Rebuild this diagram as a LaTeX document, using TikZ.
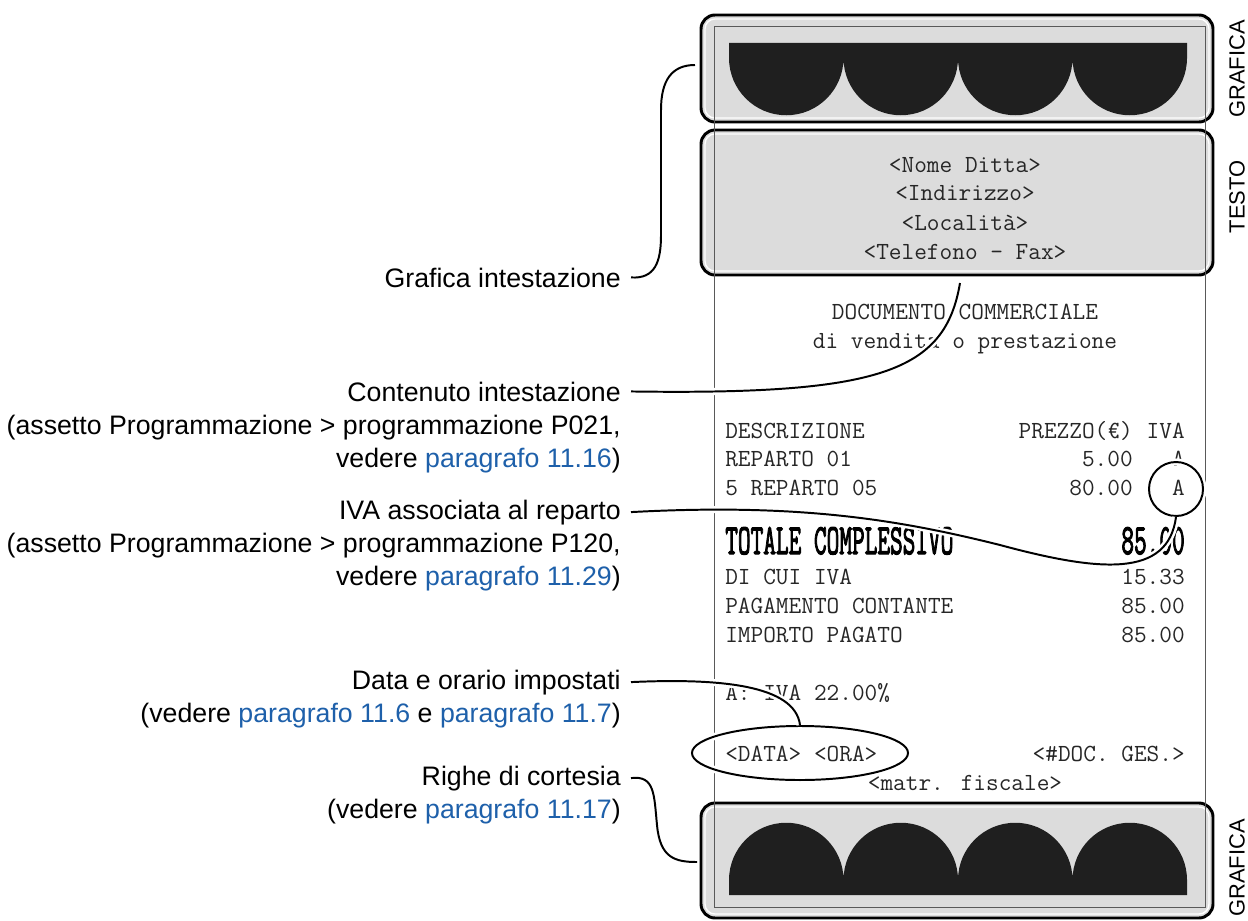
\documentclass[tikz,border=0pt]{standalone}
\usepackage{fontspec}
\setmainfont{Liberation Sans}
\newfontfamily\totfont{Latin Modern Mono}[FakeBold=3]
\usepackage{graphicx}
\usetikzlibrary{calc, shapes.geometric}

\definecolor{linkblue}{RGB}{30,96,170}
\definecolor{boxgray}{RGB}{220,220,220}
\newcommand{\rifpar}[1]{\textcolor{linkblue}{paragrafo #1}}

\tikzset{
  lbl/.style={font=\fontsize{19}{23}\selectfont, inner sep=0pt, anchor=base east},
  mono/.style={font=\ttfamily\fontsize{17.5}{20}\selectfont, text=black!85, inner sep=0pt},
  sidelbl/.style={font=\fontsize{15.6}{18}\selectfont, rotate=90, inner sep=0pt},
  gbox/.style={draw=black, line width=2.1pt, fill=boxgray, rounded corners=10pt},
  gline/.style={draw=white, line width=1pt, rounded corners=7pt},
  paper/.style={draw=black!65, line width=0.7pt},
  conn/.style={draw=black, line width=1.4pt, preaction={draw=white, line width=5pt}},
  ring/.style={draw=black, line width=1.4pt, preaction={draw=white, line width=5pt}, inner sep=0pt}
}

\begin{document}
\begin{tikzpicture}[x=0.025cm, y=-0.025cm]
    \useasboundingbox (0,0) rectangle (1248,920);

    % grey boxes
    \draw[gbox] (701,15) rectangle (1213,122);
    \draw[gline] (705,19) rectangle (1209,118);
    \draw[gbox] (701,130) rectangle (1213,275);
    \draw[gline] (705,134) rectangle (1209,271);
    \draw[gbox] (701,803) rectangle (1213,918);
    \draw[gline] (705,807) rectangle (1209,914);

    % paper
    \draw[paper] (714,26) rectangle (1205,907);

    % graphics
    \fill[black!88] (729,43) -- (1187,43) -- (1187,58)
        \foreach \i in {1,...,4} { arc[start angle=0, end angle=180, radius=57.25] } -- cycle;
    \fill[black!88] (729,895) -- (729,880)
        \foreach \i in {1,...,4} { arc[start angle=180, end angle=360, radius=57.25] } -- (1187,895) -- cycle;

    \node[sidelbl] (gr1) at (1237,69) {GRAFICA};
    \node[sidelbl] (testo) at (1237,197) {TESTO};
    \node[sidelbl] (gr2) at (1237,868) {GRAFICA};

    % receipt text
    \node[mono, anchor=base] (nome) at (965,172) {<Nome Ditta>};
    \node[mono, anchor=base] (indir) at (965,200) {<Indirizzo>};
    \node[mono, anchor=base] (local) at (965,230) {<Località>};
    \node[mono, anchor=base] (telfax) at (965,259) {<Telefono - Fax>};
    \node[mono, anchor=base] (doc1) at (965,319) {DOCUMENTO COMMERCIALE};
    \node[mono, anchor=base] (doc2) at (965,348) {di vendita o prestazione};

    \foreach \n/\y/\t in {hd/438/DESCRIZIONE, r1/466/REPARTO 01, r5/495/5 REPARTO 05,
        dci/584/DI CUI IVA, pag/613/PAGAMENTO CONTANTE, imp/642/IMPORTO PAGATO,
        aliq/700/A: IVA 22.00\%, data/761/<DATA> <ORA>}
        \node[mono, anchor=base west] (\n) at (725,\y) {\t};
    \foreach \n/\y/\t in {hp/438/PREZZO(€), p1/466/5.00, p5/495/80.00}
        \node[mono, anchor=base east] (\n) at (1133,\y) {\t};
    \foreach \n/\y/\t in {hi/438/IVA, a1/466/A, a5/495/A, v1/584/15.33, v2/613/85.00, v3/642/85.00}
        \node[mono, anchor=base east] (\n) at (1185,\y) {\t};
    \node[mono, anchor=base east] (ndoc) at (1185,761) {<\#DOC. GES.>};
    \node[mono, anchor=base] (matr) at (965,790) {<matr. fiscale>};

    \node[mono, anchor=base west, text=black] (tot) at (725,554) {\scalebox{1}[1.75]{\totfont TOTALE COMPLESSIVO}};
    \node[mono, anchor=base east, text=black] (totv) at (1185,554) {\scalebox{1}[1.75]{\totfont 85.00}};

    % labels
    \node[lbl] (grafint) at (621,287) {Grafica intestazione};
    \node[lbl] (contint) at (621,401) {Contenuto intestazione};
    \node[lbl] (contint2) at (621,434) {(assetto Programmazione > programmazione P021,};
    \node[lbl] (contint3) at (621,467) {vedere \rifpar{11.16})};
    \node[lbl] (ivarep) at (621,519) {IVA associata al reparto};
    \node[lbl] (ivarep2) at (621,552) {(assetto Programmazione > programmazione P120,};
    \node[lbl] (ivarep3) at (621,585) {vedere \rifpar{11.29})};
    \node[lbl] (dataora) at (621,689) {Data e orario impostati};
    \node[lbl] (dataora2) at (621,722) {(vedere \rifpar{11.6} e \rifpar{11.7})};
    \node[lbl] (cortesia) at (621,785) {Righe di cortesia};
    \node[lbl] (cortesia2) at (621,818) {(vedere \rifpar{11.17})};

    % markers
    \node[ring, circle, minimum size=1.35cm] (cA) at (1176,489) {};
    \node[ring, ellipse, minimum width=5.4cm, minimum height=1.35cm] (eDO) at (800,753) {};
    \coordinate (gtopend) at (695,65);
    \coordinate (testoend) at (960,283);
    \coordinate (gbotend) at (697,862);

    % connectors
    \draw[conn] ($(grafint.east)+(10,0)$) .. controls (655,279) and (661,262) .. (661,235)
        -- (661,110) .. controls (661,80) and (672,65) .. (gtopend);
    \draw[conn] ($(contint.east)+(10,0)$) .. controls (880,395) and (945,372) .. (testoend);
    \draw[conn] ($(ivarep.east)+(10,0)$) .. controls (800,503) and (900,520) .. (1000,545)
        .. controls (1100,572) and (1168,578) .. (cA.south);
    \draw[conn] ($(dataora.east)+(10,0)$) .. controls (720,678) and (795,685) .. (eDO.north);
    \draw[conn] ($(cortesia.east)+(10,0)$) .. controls (655,775) and (654,795) .. (657,825)
        .. controls (660,858) and (675,862) .. (gbotend);
\end{tikzpicture}
\end{document}
